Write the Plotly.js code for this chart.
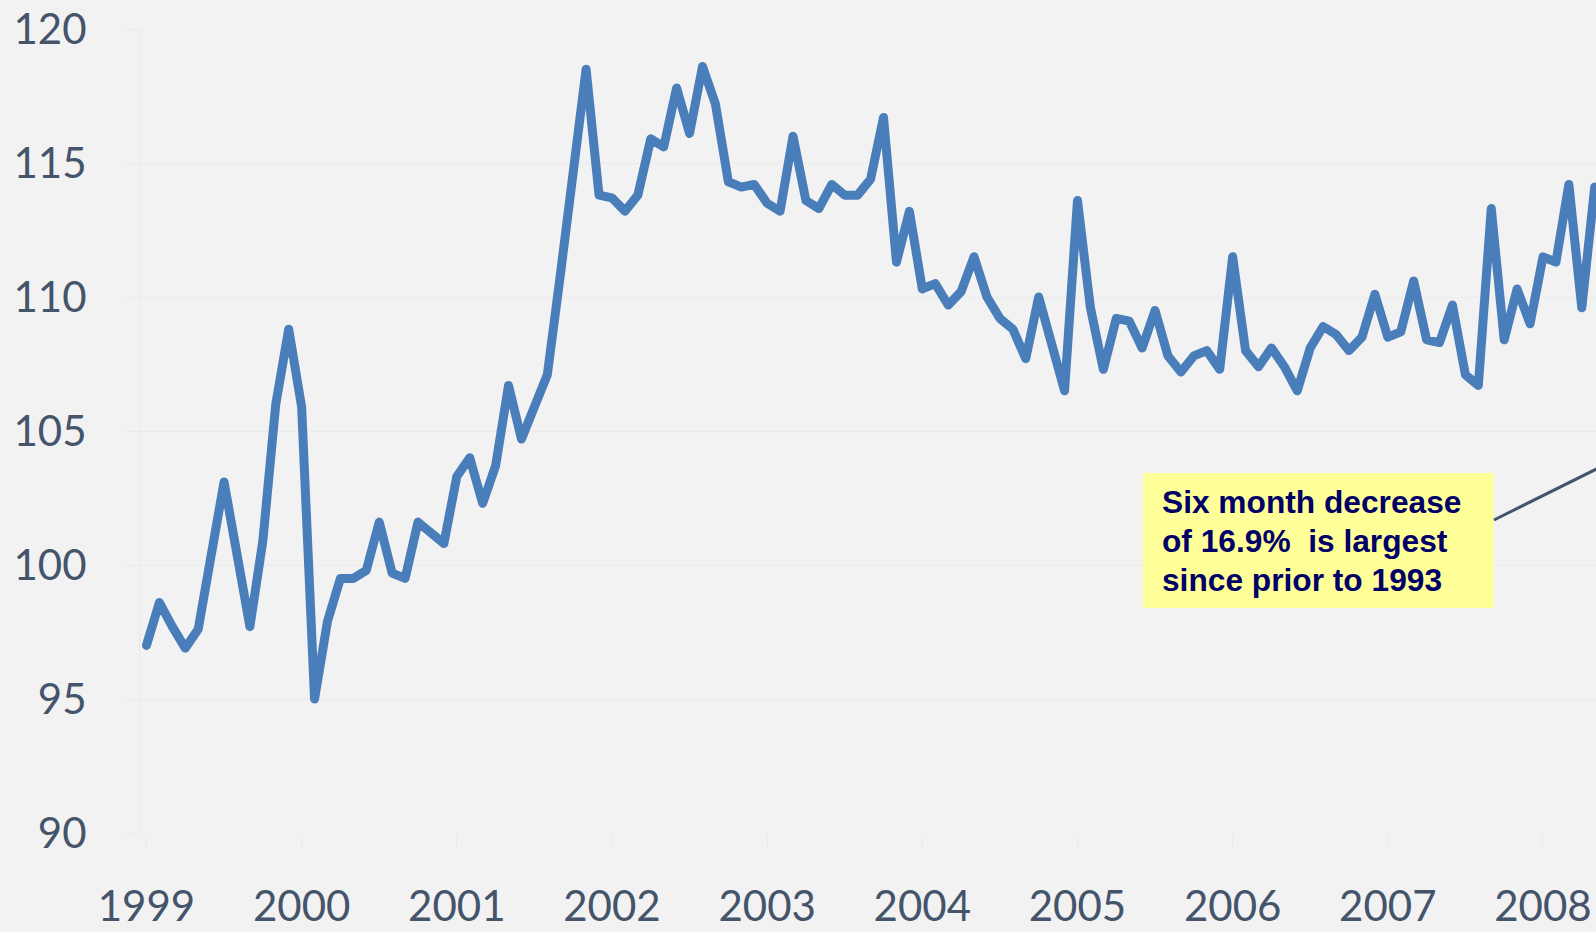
<!DOCTYPE html>
<html>
<head>
<meta charset="utf-8">
<script src="https://cdn.plot.ly/plotly-3.0.1.min.js"></script>
<style>
html,body{margin:0;padding:0;background:#f2f2f2;overflow:hidden}
.js-line{stroke-linejoin:round !important;stroke-linecap:round !important}
</style>
</head>
<body>
<div id="chart" style="width:1596px;height:932px"></div>
<script>
// ---- data ----
const startYear = 1999;
const years = ['1999','2000','2001','2002','2003','2004','2005','2006','2007','2008'];
const values = [
  97.0, 98.6, 97.7, 96.9, 97.6, 100.4, 103.1, 100.4, 97.7, 100.9, 106.0, 108.8,   // 1999
  105.9, 95.0, 97.9, 99.5, 99.5, 99.8, 101.6, 99.7, 99.5, 101.6, 101.2, 100.8,     // 2000
  103.3, 104.0, 102.3, 103.7, 106.7, 104.7, 105.9, 107.1, 110.8, 114.5, 118.5, 113.8, // 2001
  113.7, 113.2, 113.8, 115.9, 115.6, 117.8, 116.1, 118.6, 117.2, 114.3, 114.1, 114.2, // 2002
  113.5, 113.2, 116.0, 113.6, 113.3, 114.2, 113.8, 113.8, 114.4, 116.7, 111.3, 113.2, // 2003
  110.3, 110.5, 109.7, 110.2, 111.5, 110.0, 109.2, 108.8, 107.7, 110.0, 108.3, 106.5, // 2004
  113.6, 109.6, 107.3, 109.2, 109.1, 108.1, 109.5, 107.8, 107.2, 107.8, 108.0, 107.3, // 2005
  111.5, 108.0, 107.4, 108.1, 107.4, 106.5, 108.1, 108.9, 108.6, 108.0, 108.5, 110.1, // 2006
  108.5, 108.7, 110.6, 108.4, 108.3, 109.7, 107.1, 106.7, 113.3, 108.4, 110.3, 109.0, // 2007
  111.5, 111.3, 114.2, 109.6, 114.1                                                  // 2008
];
const yTicks = [90, 95, 100, 105, 110, 115, 120];
const noteLines = ['Six month decrease', 'of 16.9% &nbsp;is largest', 'since prior to 1993'];

// month category labels
const months = values.map((v, i) => {
  const y = startYear + Math.floor(i / 12);
  const m = (i % 12) + 1;
  return y + '-' + String(m).padStart(2, '0');
});

const tickFont = {family: 'Lato, "Open Sans", sans-serif', size: 42, color: '#44546a'};
const faint = '#eaeaea';

const trace = {
  x: months,
  y: values,
  type: 'scatter',
  mode: 'lines',
  line: {color: '#4a7ebb', width: 9},
  hoverinfo: 'skip'
};

// note text lines placed as a stacked block
const noteY = [0.4111, 0.3626, 0.3141];
const noteAnnotations = noteLines.map((t, k) => ({
  xref: 'paper', yref: 'paper',
  x: 0.7005, y: noteY[k],
  xanchor: 'left', yanchor: 'middle',
  align: 'left',
  showarrow: false,
  text: t,
  font: {family: '"Liberation Sans", Arial, sans-serif', size: 31.7, color: '#000066', weight: 'bold'}
}));

const layout = {
  width: 1596,
  height: 932,
  paper_bgcolor: '#f2f2f2',
  plot_bgcolor: '#f2f2f2',
  margin: {l: 140, r: 0, t: 29, b: 99, pad: 0},
  showlegend: false,
  xaxis: {
    type: 'category',
    range: [-0.5, 112.1],
    tickmode: 'array',
    tickvals: years.map(y => y + '-01'),
    ticktext: years,
    ticks: 'outside',
    ticklen: 15,
    tickcolor: faint,
    showgrid: false,
    zeroline: false,
    showline: false,
    tickfont: tickFont,
    ticklabelstandoff: 22,
    fixedrange: true
  },
  yaxis: {
    range: [90, 120],
    tickmode: 'array',
    tickvals: yTicks,
    ticktext: yTicks.map(String),
    ticks: 'outside',
    ticklen: 15,
    tickcolor: faint,
    showgrid: true,
    gridcolor: '#ebebeb',
    gridwidth: 1,
    zeroline: false,
    showline: true,
    linecolor: '#e8e8e8',
    tickfont: tickFont,
    ticklabelstandoff: 29,
    fixedrange: true
  },
  shapes: [
    {
      type: 'rect', xref: 'paper', yref: 'paper',
      x0: 0.6889, x1: 0.9299, y0: 0.2799, y1: 0.4478,
      fillcolor: '#ffff99', line: {width: 0}, layer: 'above'
    },
    {
      type: 'line', xref: 'paper', yref: 'paper',
      x0: 0.9299, y0: 0.3893, x1: 1.02, y1: 0.4705,
      line: {color: '#44546a', width: 3}, layer: 'above'
    }
  ],
  annotations: noteAnnotations
};

Plotly.newPlot('chart', [trace], layout, {displayModeBar: false, staticPlot: true});
</script>
</body>
</html>
